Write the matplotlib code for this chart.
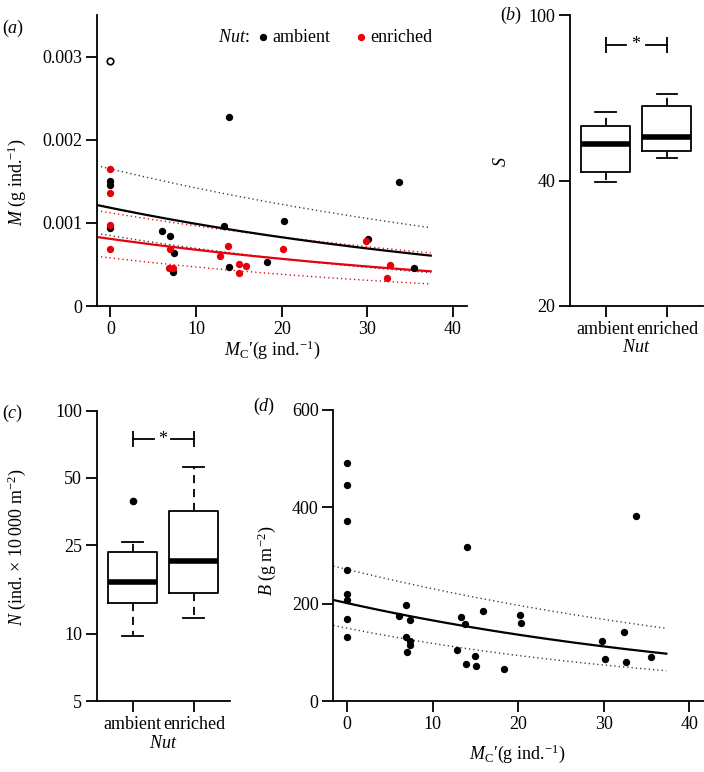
import numpy as np
import matplotlib
matplotlib.use('Agg')
import matplotlib.pyplot as plt
from matplotlib.ticker import FixedLocator, NullLocator, FixedFormatter

plt.rcParams['font.family'] = ['Liberation Serif', 'DejaVu Serif']
plt.rcParams['mathtext.fontset'] = 'custom'
plt.rcParams['mathtext.rm'] = 'Liberation Serif'
plt.rcParams['mathtext.it'] = 'Liberation Serif:italic'
plt.rcParams['font.size'] = 13

# ---------------- data ----------------
# Panel (a): mean body mass M vs consumer mass Mc'
amb_mc = [0, 0, 0, 6.08, 6.9, 7.37, 7.33, 13.3, 13.85, 13.9, 18.3, 20.3, 30.1, 33.7, 35.5]
amb_m = [1.504e-3, 1.456e-3, 0.935e-3, 0.900e-3, 0.840e-3, 0.632e-3, 0.407e-3, 0.959e-3,
         0.475e-3, 2.274e-3, 0.527e-3, 1.017e-3, 0.802e-3, 1.488e-3, 0.459e-3]
amb_out_mc = [0]
amb_out_m = [2.95e-3]
enr_mc = [0, 0, 0, 0, 7.0, 6.88, 7.33, 12.8, 13.75, 14.97, 15.03, 15.82, 20.2, 29.9, 32.3, 32.6]
enr_m = [1.650e-3, 1.356e-3, 0.979e-3, 0.688e-3, 0.688e-3, 0.461e-3, 0.461e-3, 0.604e-3,
         0.716e-3, 0.505e-3, 0.391e-3, 0.485e-3, 0.684e-3, 0.782e-3, 0.335e-3, 0.493e-3]
# fitted models y = a * exp(b * x): (a, b)
fit_amb = {'mid': (1.181e-3, -0.01784), 'upper': (1.649e-3, -0.01497), 'lower': (0.8465e-3, -0.01998)}
fit_enr = {'mid': (0.807e-3, -0.01765), 'upper': (1.120e-3, -0.01504), 'lower': (0.5784e-3, -0.02087)}
fit_range = (-1.6, 37.4)

# Panel (b): species richness S
groups = ['ambient', 'enriched']
S_stats = {'ambient': (39.6, 41.9, 49.0, 54.2, 58.3), 'enriched': (45.4, 47.2, 51.0, 60.4, 64.7)}
S_sig = 84.7

# Panel (c): density N
N_stats = {'ambient': (9.8, 13.7, 17.0, 23.2, 25.7), 'enriched': (11.8, 15.3, 21.1, 35.6, 55.7)}
N_fliers = {'ambient': [39.5], 'enriched': []}
N_sig = 74.6

# Panel (d): biomass B vs Mc'
B_mc = [0, 0, 0, 0, 0, 0, 0, 0, 6.1, 6.93, 7.39, 6.89, 7.39, 7.39, 7.04, 12.8, 13.3, 13.77,
        13.97, 13.85, 14.98, 15.06, 15.84, 18.33, 20.23, 20.3, 29.84, 30.1, 32.3, 32.6, 33.7, 35.5]
B_val = [490.7, 444.7, 371.1, 270.8, 220.6, 208.3, 169.1, 132.6, 176, 197.3, 167.7, 132, 124.4,
         116.2, 100.3, 104.5, 173.2, 158.8, 317.5, 77, 92.8, 72.9, 185.6, 66, 177.3, 160.1, 123,
         85.9, 141.6, 79.7, 382.1, 90]
fit_B = {'mid': (201.9, -0.01949), 'upper': (271.4, -0.01594), 'lower': (150.2, -0.02352)}
fit_range_B = (-1.6, 37.3)

RED = '#e8000b'
W, H = 704, 772
fig = plt.figure(figsize=(W / 100, H / 100), dpi=100)


def add_ax(l, r, t, b):
    return fig.add_axes([l / W, 1 - b / H, (r - l) / W, (b - t) / H])


def style(ax):
    for s in ('top', 'right'):
        ax.spines[s].set_visible(False)
    for s in ('left', 'bottom'):
        ax.spines[s].set_linewidth(1.3)
    ax.tick_params(direction='out', length=8, width=1.3, labelsize=13, pad=2.5)
    ax.tick_params(axis='x', pad=3.0)


def curve(ax, params, rng, color, ls, lw):
    a, b = params
    xs = np.linspace(rng[0], rng[1], 200)
    ax.plot(xs, a * np.exp(b * xs), color=color, ls=ls, lw=lw)


DOT = (0, (0.9, 2.2))

# ---------------- panel (a) ----------------
axa = add_ax(96.7, 466.7, 15, 306)
style(axa)
for k in ('upper', 'lower'):
    curve(axa, fit_amb[k], fit_range, '#333333', DOT, 1.0)
    curve(axa, fit_enr[k], fit_range, RED, DOT, 1.0)
curve(axa, fit_amb['mid'], fit_range, 'black', '-', 1.6)
curve(axa, fit_enr['mid'], fit_range, RED, '-', 1.6)
h_amb = axa.scatter(amb_mc, amb_m, s=28, color='black', zorder=3, linewidths=0)
axa.scatter(amb_out_mc, amb_out_m, s=22, facecolors='white', edgecolors='black', linewidths=1.2, zorder=3)
h_enr = axa.scatter(enr_mc, enr_m, s=28, color=RED, zorder=3, linewidths=0)
axa.set_xlim(-1.6, 41.6)
axa.set_ylim(0, 0.0035)
axa.set_xticks([0, 10, 20, 30, 40])
axa.set_yticks([0, 0.001, 0.002, 0.003])
axa.set_yticklabels(['0', '0.001', '0.002', '0.003'])
axa.set_xlabel("$M_{\\mathrm{C}}$\u2032(g ind.$^{-1}$)", va='center')
axa.xaxis.set_label_coords((272 - 96.7) / 370, (306 - 350) / 291)
axa.set_ylabel("$M$ (g ind.$^{-1}$)", va='center')
axa.yaxis.set_label_coords((17 - 96.7) / 370, (306 - 182) / 291)
leg = axa.legend([h_amb, h_enr], ['ambient', 'enriched'], ncol=2, frameon=False,
                 loc='center left', bbox_to_anchor=(258.5 / W, 1 - 37 / H), bbox_transform=fig.transFigure,
                 borderpad=0, borderaxespad=0, handlelength=0.5, handletextpad=0.25, columnspacing=1.48,
                 scatterpoints=1, fontsize=13)
fig.text(218 / W, 1 - 37 / H, "$Nut$:", ha='left', va='center', fontsize=13)

# ---------------- panels (b), (c) ----------------
def boxpanel(ax, stats, fliers, sig, ylim, yticks, ylab, ylab_xy, star_gap):
    style(ax)
    ax.set_yscale('log')
    bx = []
    for g in groups:
        lo, q1, med, q3, hi = stats[g]
        bx.append({'whislo': lo, 'q1': q1, 'med': med, 'q3': q3, 'whishi': hi,
                   'fliers': fliers.get(g, []), 'label': g})
    ax.bxp(bx, positions=[1, 2], widths=0.8, capwidths=0.34, showfliers=True,
           boxprops=dict(linewidth=1.3, color='black'),
           medianprops=dict(linewidth=4.0, color='black', solid_capstyle='butt'),
           whiskerprops=dict(linewidth=1.3, color='black', linestyle=(0, (4.5, 3.2))),
           capprops=dict(linewidth=1.3, color='black'),
           flierprops=dict(marker='o', markersize=4.5, markerfacecolor='black',
                           markeredgecolor='black'))
    ax.set_xlim(0.415, 2.59)
    ax.set_ylim(*ylim)
    ax.yaxis.set_major_locator(FixedLocator(yticks))
    ax.yaxis.set_major_formatter(FixedFormatter([str(v) for v in yticks]))
    ax.yaxis.set_minor_locator(NullLocator())
    ax.set_xticks([1, 2])
    ax.set_xticklabels(groups)
    ax.set_xlabel("$Nut$", labelpad=1)
    # significance bracket
    ax.plot([1, 1 + star_gap[0]], [sig, sig], color='black', lw=1.3)
    ax.plot([1 + star_gap[1], 2], [sig, sig], color='black', lw=1.3)
    ax.plot([1, 2], [sig, sig], ls='none', marker='|', markersize=11, mew=1.3, color='black')
    ax.text(1.495, sig, '*', ha='center', va='center', fontsize=13)
    ax.set_ylabel(ylab, va='center')
    ax.yaxis.set_label_coords(*ylab_xy)


axb = add_ax(570, 703, 15, 305.7)
boxpanel(axb, S_stats, {}, S_sig, (20, 100), [20, 40, 100], "$S$",
         ((502 - 570) / 133, (305.7 - 162) / 290.7), (0.337, 0.652))

axc = add_ax(96.7, 230, 410.7, 701)
boxpanel(axc, N_stats, N_fliers, N_sig, (5, 100), [5, 10, 25, 50, 100],
         "$N$ (ind. \u00d7 10\u2009000 m$^{-2}$)",
         ((17 - 96.7) / 133.3, (701 - 547) / 290.3), (0.344, 0.628))

# ---------------- panel (d) ----------------
axd = add_ax(333.3, 704, 410, 701)
style(axd)
curve(axd, fit_B['upper'], fit_range_B, '#333333', DOT, 1.0)
curve(axd, fit_B['lower'], fit_range_B, '#333333', DOT, 1.0)
curve(axd, fit_B['mid'], fit_range_B, 'black', '-', 1.6)
axd.scatter(B_mc, B_val, s=28, color='black', zorder=3, linewidths=0)
axd.set_xlim(-1.6, 41.7)
axd.set_ylim(0, 600)
axd.set_xticks([0, 10, 20, 30, 40])
axd.set_yticks([0, 200, 400, 600])
axd.set_xlabel("$M_{\\mathrm{C}}$\u2032(g ind.$^{-1}$)", va='center')
axd.xaxis.set_label_coords((517 - 333.3) / 370.7, (701 - 754) / 291)
axd.set_ylabel("$B$ (g m$^{-2}$)", va='center')
axd.yaxis.set_label_coords((267 - 333.3) / 370.7, (701 - 561) / 291)

# panel letters
for txt, x, y in [("($a$)", 2, 28), ("($b$)", 500, 15), ("($c$)", 2, 413), ("($d$)", 253, 406)]:
    fig.text(x / W, 1 - y / H, txt, ha='left', va='center', fontsize=13)

fig.savefig('out.png', dpi=100)
